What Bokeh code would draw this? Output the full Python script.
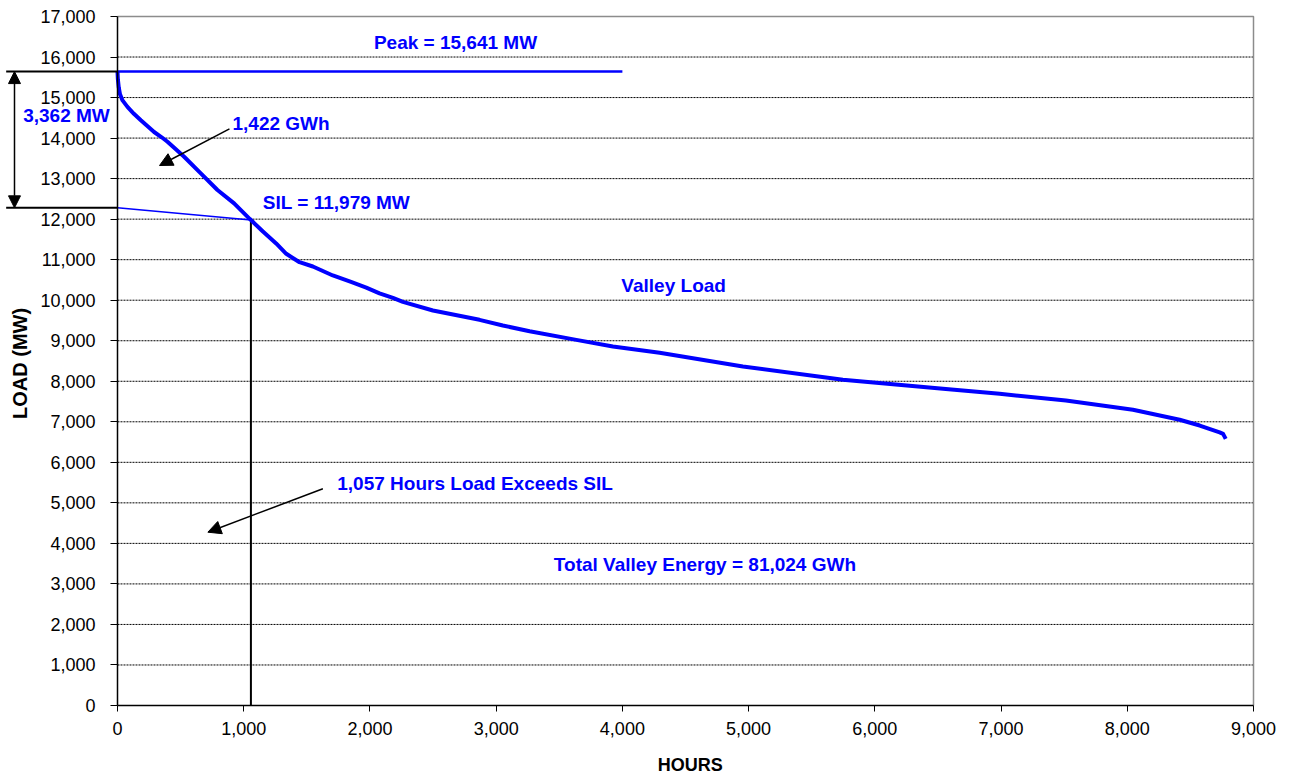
import math
from bokeh.plotting import figure
from bokeh.models import (Range1d, FixedTicker, NumeralTickFormatter, Label, Arrow, NormalHead)
from bokeh.embed import file_html
from bokeh.resources import INLINE

# ---- data ----
hours = [0, 3, 10, 20, 40, 79, 130, 185, 290, 350, 396, 460, 528, 660, 792, 924, 1047, 1057,
         1150, 1257, 1337, 1442, 1548, 1706, 1850, 1971, 2076, 2182, 2261, 2499,
         2868, 3053, 3265, 3635, 3925, 4295, 4955, 5747, 6540, 6989, 7514, 8045, 8415,
         8574, 8732, 8759, 8780]
load_mw = [15641, 15450, 15250, 15080, 14930, 14770, 14600, 14440, 14150, 14020, 13910,
           13730, 13540, 13130, 12720, 12390, 12008, 11979, 11700, 11400, 11145, 10938,
           10831, 10610, 10450, 10310, 10170, 10060, 9960, 9746, 9516, 9376, 9235, 9022,
           8858, 8702, 8364, 8036, 7814, 7690, 7525, 7296, 7050, 6908, 6740, 6703, 6580]

peak_mw = 15641
peak_line_end_h = 4000
sil_mw = 11979
sil_hours = 1057
sil_start_mw = 12279          # peak_mw - 3362
exceed_mw = 3362

x_ticks = list(range(0, 9001, 1000))
y_ticks = list(range(0, 17001, 1000))

BLUE = "#0000FF"
FONT = "Liberation Sans"

# The frame spans the whole canvas so that the margin annotations can be drawn;
# the axes float at x = 0 and y = 0.
p = figure(width=1293, height=779,
           x_range=Range1d(-926.9, 9316.9), y_range=Range1d(-1825.8, 17394.8),
           output_backend="svg", toolbar_location=None,
           min_border_left=0, min_border_right=0, min_border_top=0, min_border_bottom=0)
p.title.visible = False

p.background_fill_color = "white"
p.border_fill_color = "white"
p.outline_line_color = None

# axes
for ax in (p.xaxis[0], p.yaxis[0]):
    ax.formatter = NumeralTickFormatter(format="0,0")
    ax.major_label_text_font = FONT
    ax.major_label_text_font_size = "18px"
    ax.major_label_text_color = "#000000"
    ax.axis_line_color = "#000000"
    ax.axis_line_width = 1.5
    ax.major_tick_line_color = "#000000"
    ax.major_tick_in = 0
    ax.minor_tick_line_color = None
    ax.fixed_location = 0

p.xaxis.ticker = FixedTicker(ticks=x_ticks)
p.yaxis.ticker = FixedTicker(ticks=y_ticks)
p.xaxis.bounds = (0, 9000)
p.yaxis.bounds = (0, 17000)
p.yaxis.major_tick_out = 7
p.xaxis.major_tick_out = 6
p.yaxis.major_label_standoff = 15
p.xaxis.major_label_standoff = 10

p.grid.visible = False

# horizontal dashed grid lines and grey frame border
grid_y = y_ticks[1:-1]
p.segment(x0=[0] * len(grid_y), y0=grid_y, x1=[9000] * len(grid_y), y1=grid_y,
          line_color="black", line_width=1, line_dash="2 1")
p.line([0, 9000, 9000], [17000, 17000, 0], line_color="#8c8c8c", line_width=1.5)

# vertical line at SIL hours
p.line([sil_hours, sil_hours], [0, sil_mw], line_color="black", line_width=2)
# SIL slope line
p.line([0, sil_hours], [sil_start_mw, sil_mw], line_color=BLUE, line_width=1.5)
# peak line
p.line([0, peak_line_end_h], [peak_mw, peak_mw], line_color=BLUE, line_width=2.5)
# load duration curve
p.line(hours, load_mw, line_color=BLUE, line_width=4, line_join="round")

# lines / double arrow in the left margin
x_ext = -882
x_dbl = -816
p.segment(x0=[x_ext, x_ext], y0=[peak_mw, sil_start_mw], x1=[0, 0], y1=[peak_mw, sil_start_mw],
          line_color="black", line_width=2)
p.add_layout(Arrow(start=NormalHead(size=12, fill_color="black", line_color="black"),
                   end=NormalHead(size=12, fill_color="black", line_color="black"),
                   x_start=x_dbl, y_start=peak_mw, x_end=x_dbl, y_end=sil_start_mw,
                   line_color="black", line_width=1.5))

# pointer arrows
p.add_layout(Arrow(end=NormalHead(size=13, fill_color="black", line_color="black"),
                   x_start=887, y_start=14229, x_end=333, y_end=13323,
                   line_color="black", line_width=1.5))
p.add_layout(Arrow(end=NormalHead(size=13, fill_color="black", line_color="black"),
                   x_start=1627, y_start=5347, x_end=716, y_end=4276,
                   line_color="black", line_width=1.5))

# axis titles
p.add_layout(Label(x=-773, y=8440, text="LOAD (MW)", angle=math.pi / 2,
                   text_font=FONT, text_font_size="20px", text_font_style="bold",
                   text_color="black", text_align="center", text_baseline="middle"))
p.add_layout(Label(x=4537, y=-1480, text="HOURS",
                   text_font=FONT, text_font_size="18px", text_font_style="bold",
                   text_color="black", text_align="center", text_baseline="middle"))

# annotation texts
texts = [
    (2678, 16358, "Peak = 15,641 MW"),
    (-404, 14557, "3,362 MW"),
    (1296, 14367, "1,422 GWh"),
    (1735, 12418, "SIL = 11,979 MW"),
    (4406, 10363, "Valley Load"),
    (2833, 5470, "1,057 Hours Load Exceeds SIL"),
    (4654, 3479, "Total Valley Energy = 81,024 GWh"),
]
for tx, ty, tt in texts:
    p.add_layout(Label(x=tx, y=ty, text=tt, text_font=FONT, text_font_size="19px",
                       text_font_style="bold", text_color=BLUE,
                       text_align="center", text_baseline="middle"))

open("out.html", "w").write(file_html(p, INLINE))
